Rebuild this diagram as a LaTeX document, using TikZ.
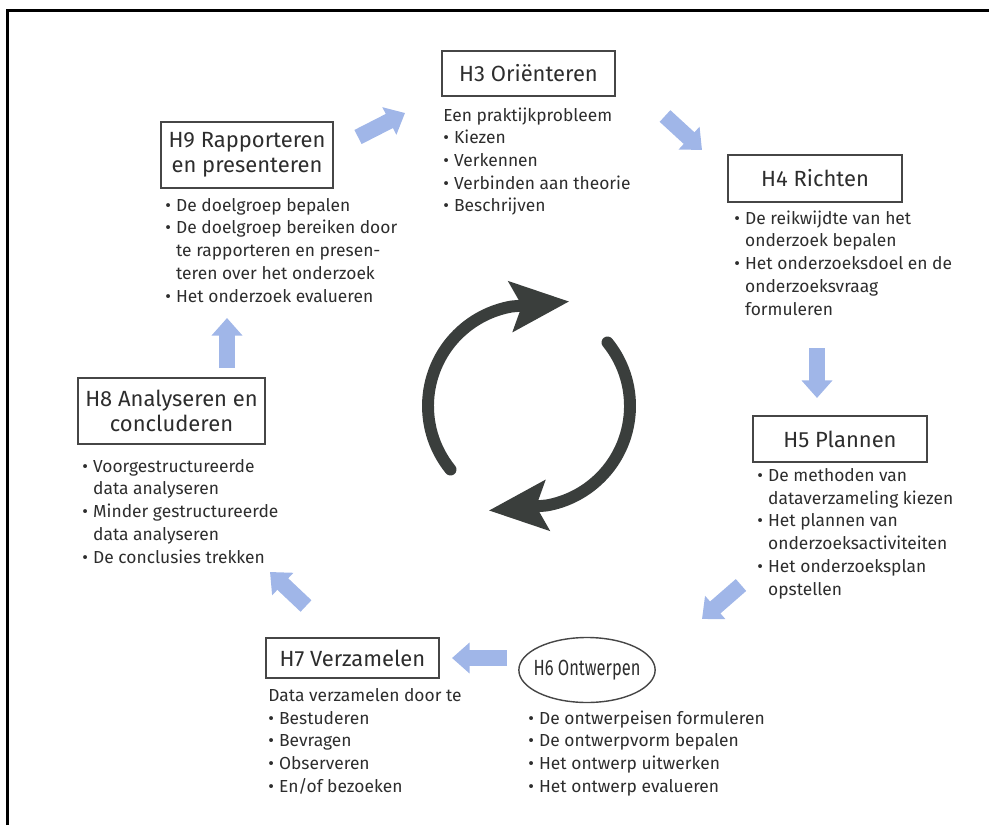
\documentclass[tikz,border=0pt]{standalone}
\usepackage{fontspec}
\setmainfont{Fira Sans}
\usetikzlibrary{arrows.meta,shapes.geometric}

\definecolor{cycledark}{RGB}{58,62,60}
\definecolor{stepblue}{RGB}{160,182,232}
\definecolor{boxgray}{RGB}{70,70,70}
\definecolor{txtgray}{RGB}{45,45,45}

\newcommand{\bul}{\makebox[0.62em][l]{\textbullet}}
\newcommand{\ind}{\hspace*{0.62em}}

\tikzset{
    chapter/.style={draw=boxgray, line width=0.8pt, align=center, inner sep=0pt,
        text=txtgray, font=\fontsize{12.5}{14.2}\selectfont},
    % anchored at the baseline of the last line
    items/.style={anchor=base west, align=left, inner sep=0pt,
        text=txtgray, font=\fontsize{9.9}{12.9}\selectfont},
    flow/.style={draw=stepblue, line width=9pt, -{Triangle[length=10pt,width=17pt]}},
    turn/.style={draw=cycledark, line width=6.8pt, line cap=round,
        -{Stealth[length=33pt,width=28pt,inset=6pt]}},
}

\begin{document}
\begin{tikzpicture}
    \useasboundingbox (0,0) rectangle (19.78,16.5);
    \draw[line width=1.7pt] (0.15,0) -- (0.15,16.29) -- (19.78,16.29);

    % chapters
    \node[chapter, minimum width=3.46cm, minimum height=0.90cm] (h3) at (10.57,15.03) {H3 Oriënteren};
    \node[items] (h3t) at (8.86,12.26) {Een praktijkprobleem\\\bul Kiezen\\\bul Verkennen\\\bul Verbinden aan theorie\\\bul Beschrijven};

    \node[chapter, minimum width=3.48cm, minimum height=0.94cm] (h4) at (16.30,12.93) {H4 Richten};
    \node[items] (h4t) at (14.68,10.20) {\bul De reikwijdte van het\\\ind onderzoek bepalen\\\bul Het onderzoeksdoel en de\\\ind onderzoeksvraag\\\ind formuleren};

    \node[chapter, minimum width=3.48cm, minimum height=0.92cm] (h5) at (16.80,7.72) {H5 Plannen};
    \node[items] (h5t) at (15.14,4.60) {\bul De methoden van\\\ind dataverzameling kiezen\\\bul Het plannen van\\\ind onderzoeksactiviteiten\\\bul Het onderzoeksplan\\\ind opstellen};

    \node[chapter, ellipse, inner xsep=-3pt, minimum width=2.70cm, minimum height=1.30cm] (h6) at (11.74,3.10) {\scalebox{0.75}[1]{H6 Ontwerpen}};
    \node[items] (h6t) at (10.56,0.66) {\bul De ontwerpeisen formuleren\\\bul De ontwerpvorm bepalen\\\bul Het ontwerp uitwerken\\\bul Het ontwerp evalueren};

    \node[chapter, minimum width=3.46cm, minimum height=0.80cm] (h7) at (7.05,3.34) {H7 Verzamelen};
    \node[items] (h7t) at (5.36,0.66) {Data verzamelen door te\\\bul Bestuderen\\\bul Bevragen\\\bul Observeren\\\bul En/of bezoeken};

    \node[chapter, minimum width=3.74cm, minimum height=1.32cm] (h8) at (3.43,8.28) {H8 Analyseren en\\concluderen};
    \node[items] (h8t) at (1.64,5.24) {\bul Voorgestructureerde\\\ind data analyseren\\\bul Minder gestructureerde\\\ind data analyseren\\\bul De conclusies trekken};

    \node[chapter, minimum width=3.44cm, minimum height=1.32cm] (h9) at (4.94,13.40) {H9 Rapporteren\\en presenteren};
    \node[items] (h9t) at (3.30,10.46) {\bul De doelgroep bepalen\\\bul De doelgroep bereiken door\\\ind te rapporteren en presen-\\\ind teren over het onderzoek\\\bul Het onderzoek evalueren};

    % blue arrows between the chapters
    \coordinate (f93a) at (7.16,13.76);  \coordinate (f93b) at (8.10,14.24);
    \coordinate (f34a) at (13.30,14.18); \coordinate (f34b) at (14.04,13.50);
    \coordinate (f45a) at (16.34,9.54);  \coordinate (f45b) at (16.34,8.54);
    \coordinate (f56a) at (14.82,4.80);  \coordinate (f56b) at (14.04,4.12);
    \coordinate (f67a) at (10.14,3.34);  \coordinate (f67b) at (9.04,3.34);
    \coordinate (f78a) at (6.12,4.38);   \coordinate (f78b) at (5.40,5.06);
    \coordinate (f89a) at (4.54,9.14);   \coordinate (f89b) at (4.54,10.14);
    \draw[flow] (f93a) -- (f93b);
    \draw[flow] (f34a) -- (f34b);
    \draw[flow] (f45a) -- (f45b);
    \draw[flow] (f56a) -- (f56b);
    \draw[flow] (f67a) -- (f67b);
    \draw[flow] (f78a) -- (f78b);
    \draw[flow] (f89a) -- (f89b);

    % cycle in the middle
    \coordinate (hub) at (10.58,8.38);
    \draw[turn] ([shift={(219:2.02)}]hub) arc[start angle=219, end angle=100, radius=2.02] -- ++(5:1.16);
    \draw[turn] ([shift={(39:2.02)}]hub) arc[start angle=39, end angle=-80, radius=2.02] -- ++(185:1.16);
\end{tikzpicture}
\end{document}
